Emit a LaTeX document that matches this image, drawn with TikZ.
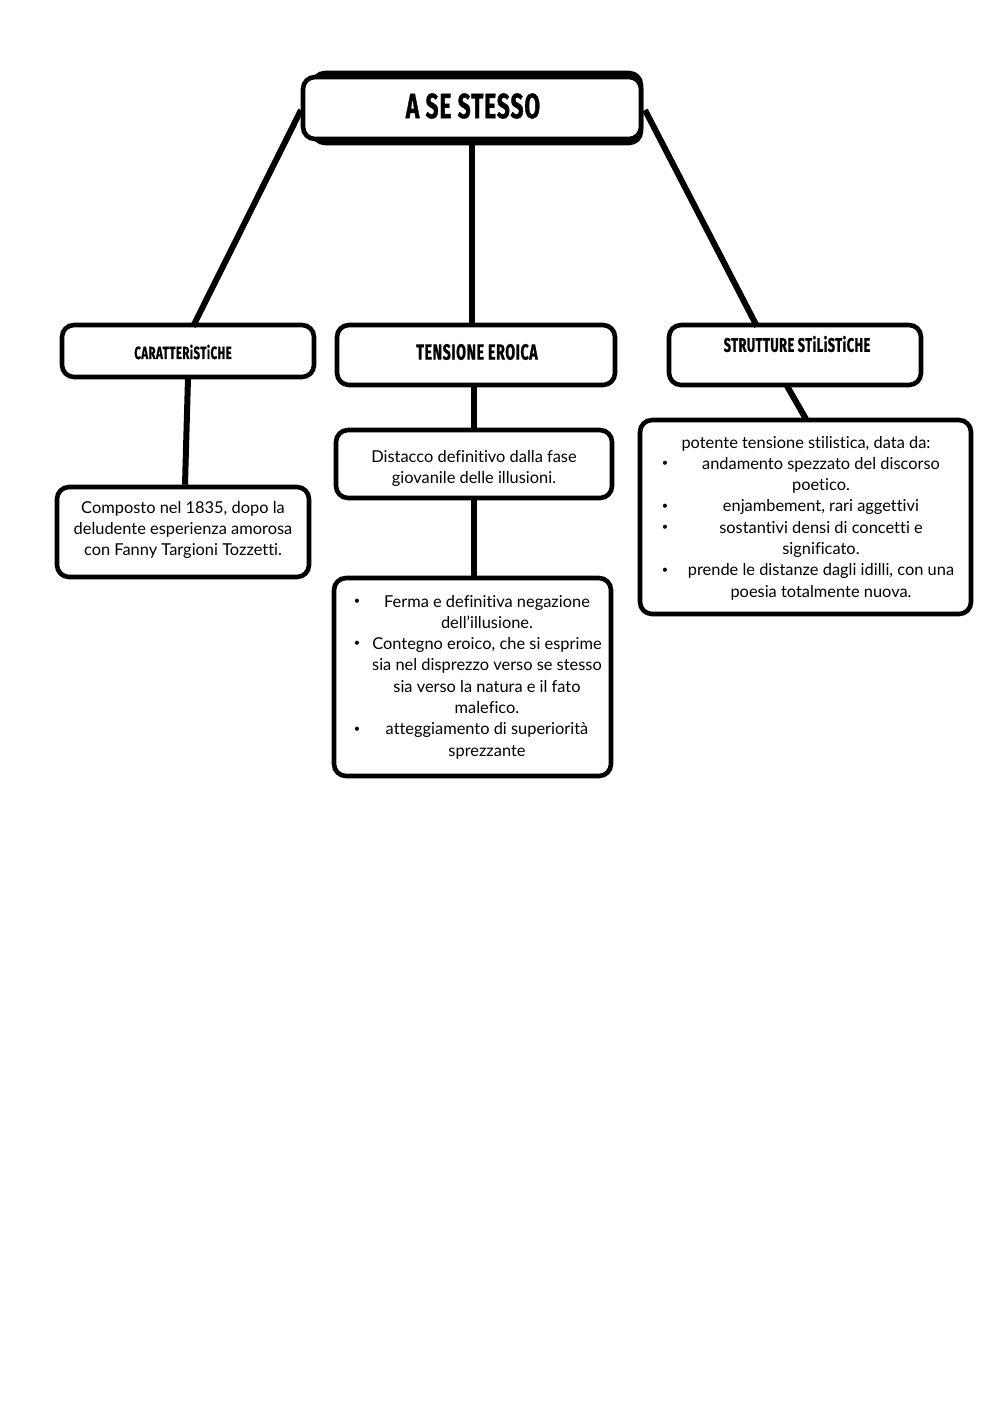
\documentclass[tikz,border=0pt]{standalone}
\usepackage{fontspec}
\setmainfont[Ligatures=NoCommon]{Lato}
\newfontfamily\headfont[FakeStretch=0.65,FakeBold=0.9,LetterSpace=2.5]{Fira Sans}
\begin{document}
\begin{tikzpicture}[x=0.5pt,y=-0.5pt,
  box/.style={draw=black,line width=2.3pt,rounded corners=6pt,fill=white,inner sep=0pt},
  conn/.style={line width=3pt},
  body/.style={inner sep=0pt,align=center,font=\fontsize{8.2}{10.65}\selectfont},
  bul/.style={inner sep=0pt,font=\fontsize{5.5}{7}\selectfont},
  head/.style={inner sep=0pt,font=\headfont\bfseries}]
\useasboundingbox[fill=white] (0,0) rectangle (1000,1414);
\coordinate (tl) at (301,110);
\coordinate (tr) at (645,110);
\coordinate (tc) at (472,141);
% boxes
\draw[box] (313,73) rectangle (641,143);
\node[box,minimum width=169pt,minimum height=31pt] (title) at (472,108) {};
\node[head,font=\headfont\bfseries\fontsize{17.5}{20}\selectfont] (titletxt) at (473,106) {A SE STESSO};
\node[box,minimum width=126pt,minimum height=26pt] (car) at (188,351) {};
\node[head,font=\headfont\bfseries\fontsize{8.8}{10}\selectfont] (cartxt) at (183,352) {CARATTERiSTiCHE};
\node[box,minimum width=139pt,minimum height=30pt] (ten) at (476,355) {};
\node[head,font=\headfont\bfseries\fontsize{11}{12}\selectfont] (tentxt) at (477,352) {TENSIONE EROICA};
\node[box,minimum width=126pt,minimum height=30pt] (str) at (795,355) {};
\node[head,font=\headfont\bfseries\fontsize{9.8}{12}\selectfont] (strtxt) at (797,344) {STRUTTURE STiLiSTiCHE};
\node[box,minimum width=126pt,minimum height=45pt] (comp) at (183,532) {};
\node[body] (comptxt) at (183,530) {Composto nel 1835, dopo la\\deludente esperienza amorosa\\con Fanny Targioni Tozzetti.};
\node[box,minimum width=138pt,minimum height=34pt] (dist) at (474,464) {};
\node[body] (disttxt) at (474,468.5) {Distacco definitivo dalla fase\\giovanile delle illusioni.};
\node[box,minimum width=138.5pt,minimum height=99pt] (bul) at (472.5,677) {};
\node[body] (bultxt) at (487,677) {Ferma e definitiva negazione\\dell’illusione.\\Contegno eroico, che si esprime\\sia nel disprezzo verso se stesso\\sia verso la natura e il fato\\malefico.\\atteggiamento di superiorità\\sprezzante};
\node[bul] (b1) at (357,602) {•};
\node[bul] (b2) at (357,644) {•};
\node[bul] (b3) at (357,730) {•};
\node[box,minimum width=165.5pt,minimum height=97pt] (sti) at (805.5,517) {};
\node[body] (stitop) at (806,443.5) {potente tensione stilistica, data da:};
\node[body] (stitxt) at (821,528.5) {andamento spezzato del discorso\\poetico.\\enjambement, rari aggettivi\\sostantivi densi di concetti e\\significato.\\prende le distanze dagli idilli, con una\\poesia totalmente nuova.};
\node[bul] (s1) at (665,464) {•};
\node[bul] (s2) at (665,507) {•};
\node[bul] (s3) at (665,528) {•};
\node[bul] (s4) at (665,571) {•};
% connectors
\draw[conn] (tl) -- (193,326.5);
\draw[conn] (tc) -- (ten.north -| tc);
\draw[conn] (tr) -- (757,326.5);
\draw[conn] (188,378) -- (comp.north -| 185,0);
\draw[conn] (ten.south -| dist.north) -- (dist.north);
\draw[conn] (dist.south) -- (dist.south |- bul.north);
\draw[conn] (787,386) -- (806,419);
\end{tikzpicture}
\end{document}
